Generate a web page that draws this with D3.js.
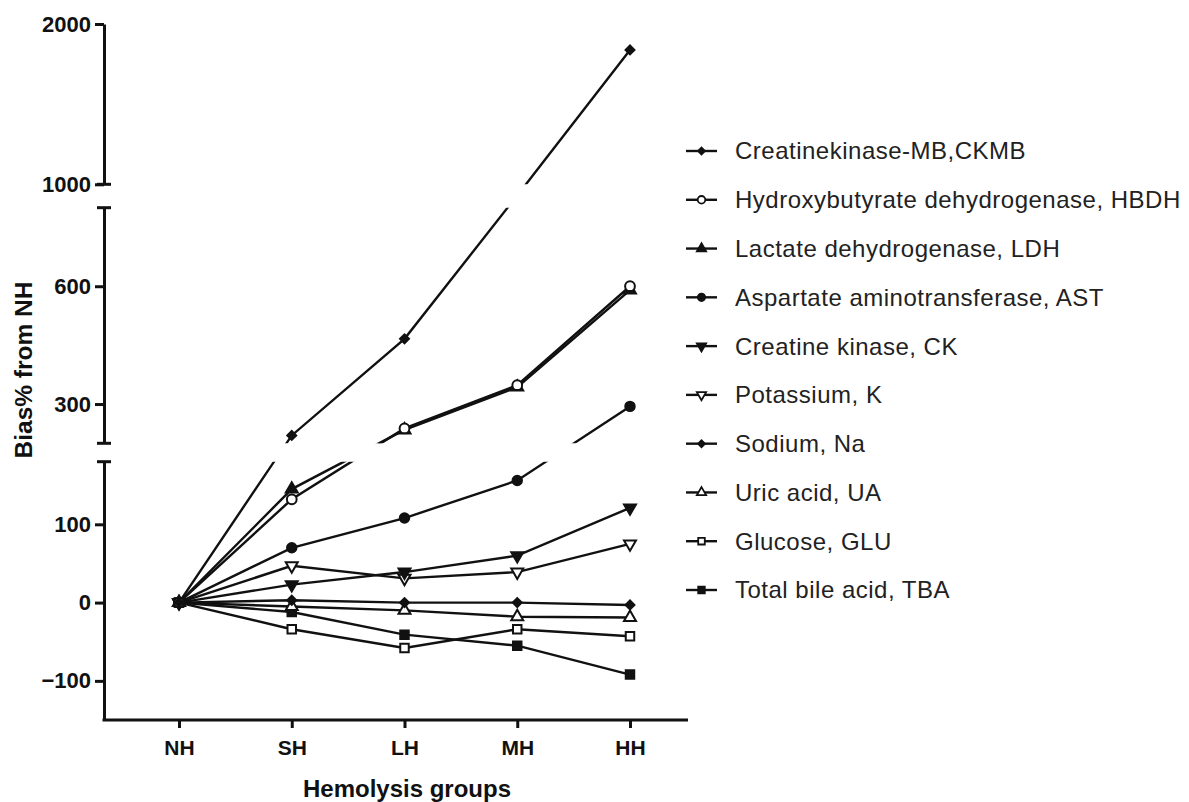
<!DOCTYPE html>
<html><head><meta charset="utf-8">
<script src="https://cdn.jsdelivr.net/npm/d3@7"></script>
<style>
body{margin:0;background:#fff}
svg{display:block}
text{font-family:"Liberation Sans",Arial,Helvetica,sans-serif}
</style>
</head><body>
<svg id="chart" width="1189" height="802"></svg>
<script>
// ---------- data ----------
const groups = ["NH", "SH", "LH", "MH", "HH"];
const seriesNames = [
  "Creatinekinase-MB,CKMB",
  "Hydroxybutyrate dehydrogenase, HBDH",
  "Lactate dehydrogenase, LDH",
  "Aspartate aminotransferase, AST",
  "Creatine kinase, CK",
  "Potassium, K",
  "Sodium, Na",
  "Uric acid, UA",
  "Glucose, GLU",
  "Total bile acid, TBA"
];
const CKMB = [0, 220, 466, 905, 1838];
const HBDH = [0, 132, 238, 348, 600];
const LDH  = [0, 145, 234, 343, 590];
const AST  = [0, 70, 108, 156, 294];
const CK   = [0, 23, 39, 60, 121];
const K    = [0, 47, 31, 39, 75];
const Na   = [0, 3, 0, 0, -3];
const UA   = [0, -5, -10, -18, -19];
const GLU  = [0, -34, -58, -34, -43];
const TBA  = [0, -12, -41, -55, -92];
const seriesValues = [CKMB, HBDH, LDH, AST, CK, K, Na, UA, GLU, TBA];

// broken y axis: segments (value ranges) and their ticks
const ySegments = [[-150, 180], [200, 800], [1000, 2000]];
const ySegmentTicks = [[-100, 0, 100], [300, 600], [1000, 2000]];

const xTitle = "Hemolysis groups";
const yTitle = "Bias% from NH";

// ---------- styles (not data) ----------
const markers = [
  {sym: d3.symbolSquare, fill: true, size: 40, rot: 45},
  {sym: d3.symbolCircle, fill: false, size: 75, rot: 0},
  {sym: d3.symbolTriangle, fill: true, size: 62, rot: 0},
  {sym: d3.symbolCircle, fill: true, size: 70, rot: 0},
  {sym: d3.symbolTriangle, fill: true, size: 62, rot: 180},
  {sym: d3.symbolTriangle, fill: false, size: 62, rot: 180},
  {sym: d3.symbolSquare, fill: true, size: 40, rot: 45},
  {sym: d3.symbolTriangle, fill: false, size: 62, rot: 0},
  {sym: d3.symbolSquare, fill: false, size: 72, rot: 0},
  {sym: d3.symbolSquare, fill: true, size: 72, rot: 0}
];

const svg = d3.select("#chart");

// piecewise y scale (gaps between segments mapped linearly)
const yDomain = [-150, 180, 200, 800, 1000, 2000];
const yRange  = [720, 461.7, 443.3, 207.7, 184.3, 24];
const y = d3.scaleLinear().domain(yDomain).range(yRange);

const x = d3.scalePoint().domain(groups).range([179, 630]);

const axisX0 = 104, axisX1 = 688, axisY = 720;

// clip regions for broken axis
const defs = svg.append("defs");
const cp = defs.append("clipPath").attr("id", "segclip");
ySegments.forEach(([lo, hi]) => {
  cp.append("rect").attr("x", axisX0 + 2).attr("width", 620)
    .attr("y", y(hi) - (hi === 2000 ? 20 : 0))
    .attr("height", y(lo) - y(hi) + (hi === 2000 ? 20 : 0));
});

// ---------- series ----------
const plot = svg.append("g").attr("clip-path", "url(#segclip)");
const line = d3.line().x((d, i) => x(groups[i])).y(d => y(d));

seriesValues.forEach((vals, si) => {
  plot.append("path").datum(vals)
    .attr("d", line).attr("fill", "none")
    .attr("stroke", "#111").attr("stroke-width", 2.4);
});
for (let si = seriesValues.length - 1; si >= 0; si--) {
  const m = markers[si];
  const sym = d3.symbol().type(m.sym).size(m.size);
  plot.selectAll(null).data(seriesValues[si]).join("path")
    .attr("d", sym)
    .attr("transform", (d, i) => `translate(${x(groups[i])},${y(d)}) rotate(${m.rot})`)
    .attr("fill", m.fill ? "#111" : "#fff")
    .attr("stroke", "#111").attr("stroke-width", 2);
}

// ---------- y axis segments ----------
ySegments.forEach(([lo, hi], k) => {
  const s = d3.scaleLinear().domain([lo, hi]).range([y(lo), y(hi)]);
  const g = svg.append("g").attr("transform", `translate(${axisX0},0)`)
    .call(d3.axisLeft(s).tickValues(ySegmentTicks[k]).tickFormat(d3.format("d"))
      .tickSize(9).tickSizeOuter(0).tickPadding(4));
  g.select(".domain").attr("stroke", "#111").attr("stroke-width", 3);
  g.selectAll(".tick line").attr("stroke", "#111").attr("stroke-width", 3);
  g.selectAll(".tick text").attr("font-size", 22).attr("font-weight", "bold").attr("fill", "#111")
    .attr("font-family", "'Liberation Sans',Arial,sans-serif");
  // break caps
  const ends = [];
  if (k > 0) ends.push(lo);
  if (k < ySegments.length - 1) ends.push(hi);
  ends.forEach(v => {
    g.append("line").attr("x1", -7).attr("x2", 7).attr("y1", y(v)).attr("y2", y(v))
      .attr("stroke", "#111").attr("stroke-width", 3);
  });
});

// ---------- x axis ----------
const gx = svg.append("g").attr("transform", `translate(0,${axisY})`)
  .call(d3.axisBottom(x).tickSize(8).tickSizeOuter(0).tickPadding(12));
gx.select(".domain").remove();
gx.append("line").attr("x1", axisX0 - 1.5).attr("x2", axisX1).attr("y1", 0).attr("y2", 0)
  .attr("stroke", "#111").attr("stroke-width", 3);
gx.selectAll(".tick line").attr("stroke", "#111").attr("stroke-width", 3);
gx.selectAll(".tick text").attr("font-size", 21).attr("font-weight", "bold").attr("fill", "#111")
  .attr("font-family", "'Liberation Sans',Arial,sans-serif");

// titles
svg.append("text").attr("x", 407).attr("y", 797).attr("text-anchor", "middle")
  .attr("font-size", 24).attr("font-weight", "bold").attr("fill", "#111").text(xTitle);
svg.append("text").attr("transform", "translate(32,370) rotate(-90)").attr("text-anchor", "middle")
  .attr("font-size", 24.5).attr("font-weight", "bold").attr("fill", "#111").text(yTitle);

// ---------- legend ----------
const ly = d3.scalePoint().domain(seriesNames).range([151, 590]);
const lg = svg.append("g");
seriesNames.forEach((name, si) => {
  const m = markers[si];
  const yy = ly(name);
  lg.append("line").attr("x1", 686).attr("x2", 717).attr("y1", yy).attr("y2", yy)
    .attr("stroke", "#111").attr("stroke-width", 2.4);
  lg.append("path").attr("d", d3.symbol().type(m.sym).size(m.size * 0.6)())
    .attr("transform", `translate(701.5,${yy}) rotate(${m.rot})`)
    .attr("fill", m.fill ? "#111" : "#fff").attr("stroke", "#111").attr("stroke-width", 1.8);
  lg.append("text").attr("x", 735).attr("y", yy).attr("dy", "0.35em")
    .attr("font-size", 24).attr("letter-spacing", "0.5px").attr("fill", "#222").text(name);
});
</script>
</body></html>
